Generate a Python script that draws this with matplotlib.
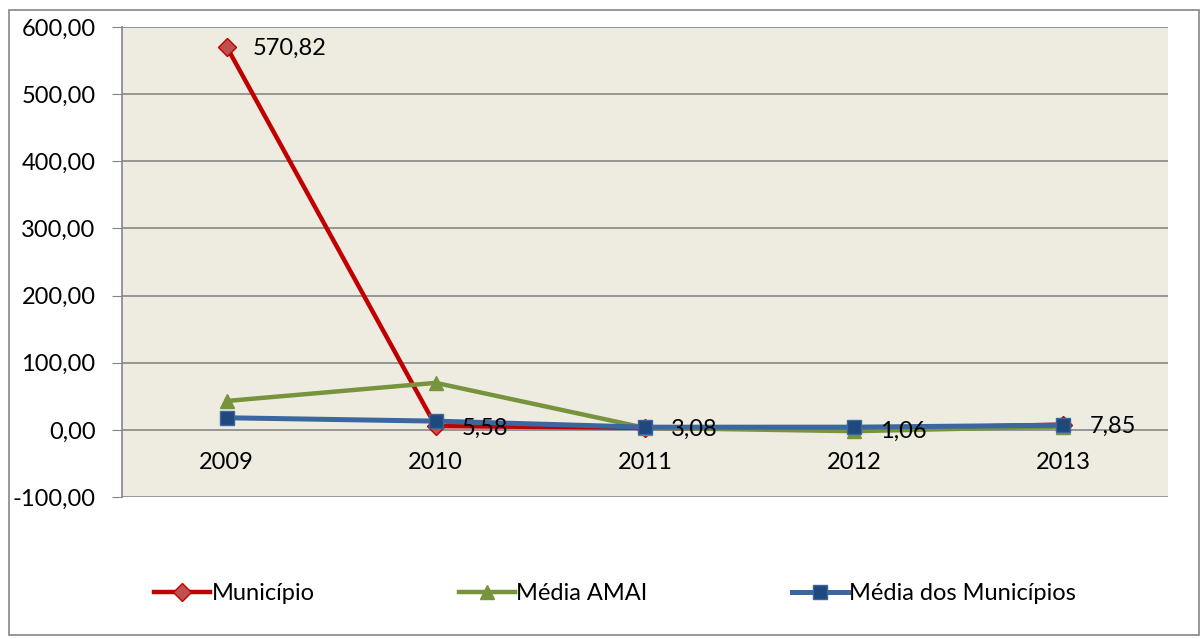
import matplotlib.pyplot as plt
from matplotlib.patches import Rectangle

# chart values
years = ["2009", "2010", "2011", "2012", "2013"]
municipio = [570.82, 5.58, 3.08, 1.06, 7.85]
municipio_labels = ["570,82", "5,58", "3,08", "1,06", "7,85"]
media_amai = [43.0, 70.0, 3.0, -2.0, 5.0]
media_municipios = [18.0, 13.0, 4.0, 4.0, 7.0]
y_ticks = [-100, 0, 100, 200, 300, 400, 500, 600]

RED = "#C00000"
RED_FACE = "#C0504D"
GREEN = "#77933C"
BLUE = "#3B679E"
BLUE_FACE = "#1F497D"
PLOT_BG = "#EEECE1"
GRID = "#868686"

plt.rcParams["font.family"] = ["Lato", "DejaVu Sans"]
FS = 17

fig = plt.figure(figsize=(12.02, 6.39), dpi=100)
fig.patches.append(Rectangle((9 / 1202, 4 / 639), 1190 / 1202, 625 / 639,
                             transform=fig.transFigure, fill=False,
                             edgecolor="#868686", linewidth=1.2))
ax = fig.add_axes([122 / 1202, 1 - 497 / 639, 1046 / 1202, 470 / 639])
ax.set_facecolor(PLOT_BG)

x = list(range(len(years)))
ax.plot(x, municipio, color=RED, linewidth=3.2, marker="D", markersize=9,
        markerfacecolor=RED_FACE, markeredgecolor=RED, label="Município", zorder=3)
ax.plot(x, media_amai, color=GREEN, linewidth=3.2, marker="^", markersize=10,
        markerfacecolor=GREEN, markeredgecolor=GREEN, label="Média AMAI", zorder=4)
ax.plot(x, media_municipios, color=BLUE, linewidth=3.6, marker="s", markersize=10,
        markerfacecolor=BLUE_FACE, markeredgecolor=BLUE, label="Média dos Municípios", zorder=5)

for xi, v, lab in zip(x, municipio, municipio_labels):
    ax.annotate(lab, (xi, v), xytext=(26, -2), textcoords="offset pixels",
                ha="left", va="center", fontsize=FS, zorder=6)

ax.set_xlim(-0.5, len(years) - 0.5)
ax.set_ylim(-100, 600)
ax.set_yticks(y_ticks)
ax.set_yticklabels([f"{t:.2f}".replace(".", ",") for t in y_ticks])
ax.tick_params(axis="y", length=7, color=GRID, pad=12, labelsize=FS)
ax.grid(axis="y", color=GRID, linewidth=1.2, zorder=0)
ax.set_axisbelow(True)

ax.spines["bottom"].set_position(("data", 0))
ax.spines["bottom"].set_visible(False)
ax.set_xticks(x)
ax.set_xticklabels(years)
ax.tick_params(axis="x", length=0, pad=16, labelsize=FS)
for s in ("top", "right"):
    ax.spines[s].set_visible(False)
ax.spines["left"].set_color(GRID)
ax.spines["left"].set_linewidth(1.2)

fig.legend(loc="center", bbox_to_anchor=(615 / 1202, 1 - 594 / 639), ncol=3,
           frameon=False, fontsize=FS, handlelength=2.4, handletextpad=0.05,
           columnspacing=6.1)

fig.savefig("out.png", dpi=100)
